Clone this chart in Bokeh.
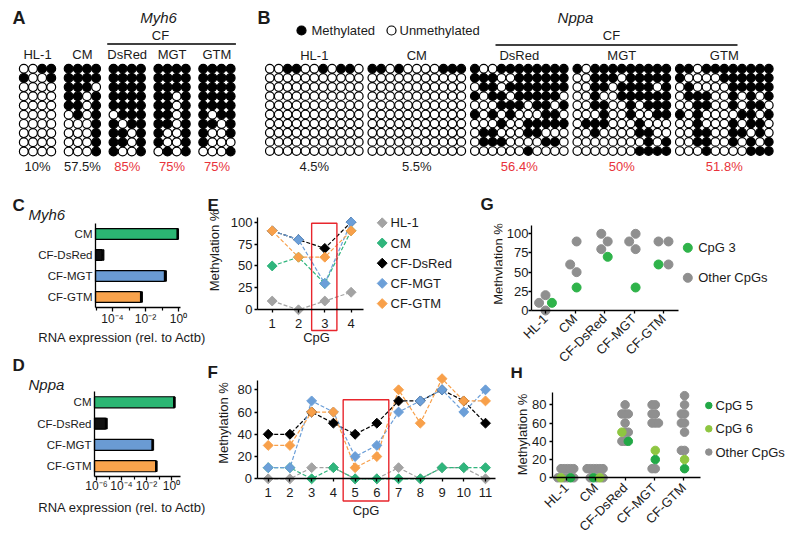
import math
from bokeh.plotting import figure
from bokeh.layouts import column, row
from bokeh.models import Range1d, FixedTicker, CustomJSTickFormatter
from bokeh.core.properties import value
from bokeh.embed import file_html
from bokeh.resources import INLINE

FONT = "Liberation Sans"
INK = "#1b1b1b"
RED = "#e8333b"

# ---------------------------------------------------------------- data
SAMPLES = ["HL-1", "CM", "CF-DsRed", "CF-MGT", "CF-GTM"]
GRID_LABELS = ["HL-1", "CM", "DsRed", "MGT", "GTM"]

# bisulfite sequencing clones (rows) x CpG sites (columns); 1 = methylated
MYH6_HL1 = ["0011", "1001", "0000", "0000", "0000", "0000", "0000", "0000", "0000", "0000"]
MYH6_CM = ["1111", "1111", "1110", "1101", "1101", "0101", "0001", "0001", "0001", "0001"]
MYH6_DSRED = ["1111", "1111", "1111", "1111", "1111", "0111", "1011", "1101", "1101", "1001"]
MYH6_MGT = ["1111", "1111", "1111", "1101", "1101", "1101", "1101", "1001", "1001", "0101"]
MYH6_GTM = ["1111", "1111", "1111", "1111", "1111", "1011", "1101", "1001", "1000", "0001"]

NPPA_HL1 = ["00110010110", "00000000000", "00000000000", "00000000000", "00000000000",
            "00000000000", "00000000000", "00000000000", "00000000000", "00000000000"]
NPPA_CM = ["11010000111", "00000000000", "00000000000", "00000000000", "00000000000",
           "00000000000", "00000000000", "00000000000", "00000000000", "00000000000"]
NPPA_DSRED = ["10011111111", "11100111111", "01101111111", "10110111110", "00011101101",
              "10101000110", "00010011111", "01100011000", "01110000110", "00000010000"]
NPPA_MGT = ["10111111111", "00111011111", "00110111101", "00100111111", "00110010111",
            "00010010011", "01110001000", "00100001100", "00000000101", "00000001111"]
NPPA_GTM = ["11011111111", "10000111111", "01000011111", "01110010101", "00110010110",
            "10100001101", "00100010110", "00110011010", "00110010101", "00010000111"]

MYH6_GRIDS = [MYH6_HL1, MYH6_CM, MYH6_DSRED, MYH6_MGT, MYH6_GTM]
NPPA_GRIDS = [NPPA_HL1, NPPA_CM, NPPA_DSRED, NPPA_MGT, NPPA_GTM]

MYH6_CPGS = [1, 2, 3, 4]
NPPA_CPGS = [1, 2, 3, 4, 5, 6, 7, 8, 9, 10, 11]
MYH6_HIGHLIGHT = [3]
NPPA_HIGHLIGHT = [5, 6]

RNA_SAMPLES = ["CM", "CF-DsRed", "CF-MGT", "CF-GTM"]
MYH6_RNA = [0.9, 2.3e-5, 0.14, 0.005]
MYH6_RNA_ERR = [0.0, 0.4e-5, 0.025, 0.0008]
NPPA_RNA = [1.7, 5.2e-6, 0.029, 0.055]
NPPA_RNA_ERR = [0.0, 1.0e-6, 0.003, 0.006]

# ---------------------------------------------------------------- styles
COL = {"HL-1": "#a3a3a3", "CM": "#2fb57c", "CF-DsRed": "#000000",
       "CF-MGT": "#6c9fd8", "CF-GTM": "#f8a04a"}
BAR_COL = {"CM": "#2bb673", "CF-DsRed": "#111111", "CF-MGT": "#6a9bd3", "CF-GTM": "#f9a34c"}
GRAY = "#8f8f8f"
G_GREEN = "#2fb34a"
H_GREENS = {5: "#22a846", 6: "#8ec641"}
SUP = str.maketrans("-0123456789", "\u207b\u2070\u00b9\u00b2\u00b3\u2074\u2075\u2076\u2077\u2078\u2079")


def pct_per_cpg(grid):
    return [100.0 * sum(int(r[c]) for r in grid) / len(grid) for c in range(len(grid[0]))]


def pct_total(grid):
    cells = "".join(grid)
    return 100.0 * cells.count("1") / len(cells)


def fmt_pct(v):
    s = f"{v:.1f}"
    if s.endswith(".0"):
        s = s[:-2]
    return s + "%"


def swarm(vals, px_x, px_y, dist):
    order = sorted(range(len(vals)), key=lambda i: (vals[i], i))
    placed = []
    off = [0.0] * len(vals)
    for i in order:
        y = vals[i] * px_y
        cands = [0.0]
        for qx, qy in placed:
            dy = abs(y - qy)
            if dy < dist:
                h = math.sqrt(dist * dist - dy * dy)
                cands += [qx - h, qx + h]
        cands.sort(key=lambda c: (round(abs(c), 6), c))
        chosen = cands[-1]
        for c in cands:
            if all((c - qx) ** 2 + (y - qy) ** 2 >= dist * dist - 1e-6 for qx, qy in placed):
                chosen = c
                break
        placed.append((chosen, y))
        off[i] = chosen
    m = sum(off) / len(off)
    return [(o - m) / px_x for o in off]


class Panel:
    """A figure whose frame fills it; layout positions are given in page pixels."""

    def __init__(self, fx, fy, w, h, borders, xmap, ymap, xlog=False, xloc="above", yloc="right"):
        l, r, t, b = borders
        self.xmap, self.ymap, self.xlog = xmap, ymap, xlog
        kw = dict(x_axis_type="log") if xlog else {}
        self.p = figure(width=w, height=h,
                        x_range=Range1d(self.dx(fx + l), self.dx(fx + w - r)),
                        y_range=Range1d(self.dy(fy + h - b), self.dy(fy + t)),
                        x_axis_location=xloc, y_axis_location=yloc,
                        output_backend="svg", toolbar_location=None,
                        min_border_left=l, min_border_right=r, min_border_top=t,
                        min_border_bottom=b, outline_line_color=None, **kw)
        self.p.grid.visible = False

    def dx(self, X):
        X0, d0, s = self.xmap
        v = d0 + (X - X0) / s
        return 10 ** v if self.xlog else v

    def dy(self, Y):
        Y0, d0, s = self.ymap
        return d0 + (Y0 - Y) / s

    def text(self, xs, ys, texts, size, style="normal", align="center", baseline="middle",
             angle=0.0, color=INK, xpx=True, ypx=True):
        x = [self.dx(v) for v in xs] if xpx else list(xs)
        y = [self.dy(v) for v in ys] if ypx else list(ys)
        self.p.text(x=x, y=y, text=texts, angle=angle, text_font=value(FONT),
                    text_font_size=value(size), text_font_style=style, text_align=align,
                    text_baseline=baseline, text_color=color)

    def axis(self, ax, loc, bounds, ticks, tick_in=0, tick_out=0, minor=None):
        ax.fixed_location = loc
        ax.bounds = bounds
        ax.ticker = FixedTicker(ticks=ticks, minor_ticks=minor or [])
        ax.axis_line_color = "black"
        ax.axis_line_width = 1.3
        ax.major_tick_line_color = "black" if (tick_in or tick_out) else None
        ax.major_tick_line_width = 1.3
        ax.major_tick_in = tick_in
        ax.major_tick_out = tick_out
        if minor:
            ax.minor_tick_line_color = "black"
            ax.minor_tick_line_width = 1.2
            ax.minor_tick_in = 0
            ax.minor_tick_out = 3
        else:
            ax.minor_tick_line_color = None
        ax.major_label_standoff = 0
        ax.major_label_text_font_size = "1px"
        ax.formatter = CustomJSTickFormatter(code="return '';")


# ---------------------------------------------------------------- A + B
top = figure(width=790, height=190, x_range=Range1d(0, 790), y_range=Range1d(190, 0),
             x_axis_location=None, y_axis_location=None, output_backend="svg",
             toolbar_location=None, min_border=0, outline_line_color=None)
top.grid.visible = False


def lollipops(grids, x0, dxc, dxg, y0, dyr, size):
    xs, ys, fills = [], [], []
    for g, grid in enumerate(grids):
        for r, line in enumerate(grid):
            for c, ch in enumerate(line):
                xs.append(x0 + g * dxg + c * dxc)
                ys.append(y0 + r * dyr)
                fills.append("black" if ch == "1" else "white")
    top.scatter(xs, ys, size=size, fill_color=fills, line_color="black", line_width=1.2)
    ncol = len(grids[0][0])
    return [x0 + g * dxg + (ncol - 1) * dxc / 2 for g in range(len(grids))]


def ttext(xs, ys, texts, size, style="normal", align="center", colors=INK):
    top.text(x=xs, y=ys, text=texts, text_font=value(FONT), text_font_size=value(size),
             text_font_style=style, text_align=align, text_baseline="middle", text_color=colors)


pct_colors = [INK, INK, RED, RED, RED]

ca = lollipops(MYH6_GRIDS, 23.3, 9.15, 44.85, 68.2, 9.2, 8.8)
ttext([12], [17], ["A"], "18px", "bold", "left")
ttext([158], [17], ["Myh6"], "15px", "italic")
ttext([160], [34.5], ["CF"], "13px")
top.segment(x0=[ca[2] - 20], y0=[43.5], x1=[ca[4] + 19], y1=[43.5], line_color="black", line_width=1.3)
ttext(ca, [53.5] * 5, GRID_LABELS, "13px")
ttext(ca, [165.5] * 5, [fmt_pct(pct_total(g)) for g in MYH6_GRIDS], "13px", colors=pct_colors)

cb = lollipops(NPPA_GRIDS, 269.3, 8.9, 102.5, 68.2, 9.15, 8.6)
ttext([257], [17], ["B"], "18px", "bold", "left")
ttext([575], [17], ["Nppa"], "15px", "italic")
ttext([611], [34.5], ["CF"], "13px")
top.segment(x0=[495], y0=[44.5], x1=[737], y1=[44.5], line_color="black", line_width=1.3)
top.scatter([301, 391], [30, 30], size=9, fill_color=["black", "white"], line_color="black", line_width=1.2)
ttext([311, 399], [30, 30], ["Methylated", "Unmethylated"], "13px", align="left")
ttext(cb, [54.5] * 5, GRID_LABELS, "13px")
ttext(cb, [165.5] * 5, [fmt_pct(pct_total(g)) for g in NPPA_GRIDS], "13px", colors=pct_colors)


# ---------------------------------------------------------------- C / D bars
def bar_panel(fy, h, xmap, ymap, ax_left, ax_right, ax_top, ax_bottom, vals, errs, ticks, minor,
              letter, gene, letter_y, gene_y, cat_x, tick_y, xlab_y):
    P = Panel(0, fy, 206, h, (2, 0, 0, 6), xmap, ymap, xlog=True, xloc="below", yloc="left")
    p = P.p
    n = len(RNA_SAMPLES)
    ypos = [n - i for i in range(n)]
    start = P.dx(ax_left)
    p.hbar(y=ypos, left=start, right=vals, height=0.52,
           fill_color=[BAR_COL[s] for s in RNA_SAMPLES], line_color="black", line_width=1.2)
    ends = [v + e for v, e in zip(vals, errs)]
    p.segment(x0=vals, y0=ypos, x1=ends, y1=ypos, line_color="black", line_width=1.3)
    p.rect(x=ends, y=ypos, width=1.6, width_units="screen", height=0.5, color="black")
    P.axis(p.xaxis[0], P.dy(ax_bottom), (start, P.dx(ax_right)), ticks, tick_out=4, minor=minor)
    P.axis(p.yaxis[0], start, (P.dy(ax_bottom), P.dy(ax_top)), [])
    P.text([12], [letter_y], [letter], "17px", "bold", "left")
    P.text([28], [gene_y], [gene], "15px", "italic", "left")
    P.text([cat_x] * n, ypos, RNA_SAMPLES, "11.5px", align="right", ypx=False)
    labels = ["10" + str(round(math.log10(t))).translate(SUP) for t in ticks]
    P.text(ticks, [tick_y] * len(ticks), labels, "12px", xpx=False)
    P.text([122], [xlab_y], ["RNA expression (rel. to Actb)"], "13px")
    return p


pC = bar_panel(190, 166, (112, -4, 16.5), (296.5, 1, 21), 95, 180, 223, 307,
               MYH6_RNA, MYH6_RNA_ERR, [1e-4, 1e-2, 1.0], [1e-5, 1e-3, 1e-1],
               "C", "Myh6", 205, 214, 92, 318.5, 337)
pD = bar_panel(356, 183, (96, -6, 12.5), (465.7, 1, 21.3), 94, 180, 390.7, 476.35,
               NPPA_RNA, NPPA_RNA_ERR, [1e-6, 1e-4, 1e-2, 1.0], [1e-5, 1e-3, 1e-1],
               "D", "Nppa", 365, 384, 91, 485, 507)


# ---------------------------------------------------------------- E / F lines
def line_panel(fx, fy, w, h, xmap, ymap, ax_left, ax_right, ax_top, cpgs, grids, yticks,
               highlight, box, letter, letter_y, ytick_x, ylab, xtick_y, xlab, legend=None):
    P = Panel(fx, fy, w, h, (0, 3, 3, 0), xmap, ymap)
    p = P.p
    series = [pct_per_cpg(g) for g in grids]
    for name, vals in zip(SAMPLES, series):
        p.line(cpgs, vals, line_color=COL[name], line_dash="4 2", line_width=1.2)
    for name, vals in zip(SAMPLES, series):
        p.scatter(cpgs, vals, marker="square", angle=math.pi / 4, size=7,
                  fill_color=COL[name], line_color=COL[name])
    lo, hi = min(highlight) - box[0], max(highlight) + box[1]
    p.quad(left=[lo], right=[hi], top=[box[2]], bottom=[box[3]], fill_alpha=0,
           line_color="#e8262d", line_width=1.4)
    x0 = P.dx(ax_left)
    P.axis(p.xaxis[0], 0, (x0, P.dx(ax_right)), cpgs, tick_in=3)
    P.axis(p.yaxis[0], x0, (0, P.dy(ax_top)), yticks, tick_in=3)
    P.text([fx + 1], [letter_y], [letter], "17px", "bold", "left")
    P.text([ytick_x] * len(yticks), yticks, [str(t) for t in yticks], "13px", align="right", ypx=False)
    P.text([ylab[0]], [ylab[1]], ["Methylation %"], "13px", angle=math.pi / 2)
    P.text(cpgs, [xtick_y] * len(cpgs), [str(c) for c in cpgs], "13px", xpx=False)
    P.text([xlab[0]], [xlab[1]], ["CpG"], "13px")
    if legend is not None:
        lx, ly0, step, tx = legend
        ys = [ly0 + k * step for k in range(len(SAMPLES))]
        p.scatter([P.dx(lx)] * len(SAMPLES), [P.dy(v) for v in ys], marker="square",
                  angle=math.pi / 4, size=7, fill_color=[COL[s] for s in SAMPLES],
                  line_color=[COL[s] for s in SAMPLES])
        P.text([tx] * len(SAMPLES), ys, SAMPLES, "13px", align="left")
    return P


PE = line_panel(206, 190, 299, 166, (271.7, 1, 26.3), (309.3, 0, 0.877), 256.7, 363, 217.2,
                MYH6_CPGS, MYH6_GRIDS, [0, 25, 50, 75, 100], MYH6_HIGHLIGHT,
                (0.5, 0.46, 98.7, -23.6), "E", 204.5, 252, (214, 250), 323, (316, 336.7),
                legend=(381.7, 222.3, 20.2, 390))
# panel G's letter and y title fall in the strip that this column's canvas covers
PE.text([480], [203.5], ["G"], "17px", "bold", "left")
PE.text([497.5], [263.5], ["Methylation %"], "13px", angle=math.pi / 2)
pE = PE.p
pF = line_panel(206, 356, 299, 183, (267.7, 1, 21.73), (478.3, 0, 1.1125), 256.7, 495, 380,
                NPPA_CPGS, NPPA_GRIDS, [0, 20, 40, 60, 80], NPPA_HIGHLIGHT,
                (0.55, 0.55, 71, -20), "F", 371.5, 251.5, (222.5, 422.5), 491.7, (365.5, 510)).p


# ---------------------------------------------------------------- G / H scatter
def dot_panel(fx, fy, w, h, xmap, ymap, ax_left, ax_right, ax_top, grids, cpgs, hl_colors,
              hl_names, yticks, dist, size, ytick_x, xtick_y, legend, letter=None, ylab=None):
    P = Panel(fx, fy, w, h, (0, 3, 3, 0), xmap, ymap)
    p = P.p
    px_x, px_y = xmap[2], ymap[2]
    gx, gy, hx, hy, hc = [], [], [], [], []
    for gi, grid in enumerate(grids):
        vals = pct_per_cpg(grid)
        offs = swarm(vals, px_x, px_y, dist)
        for k, (v, o) in enumerate(zip(vals, offs)):
            if cpgs[k] in hl_colors:
                hx.append(gi + 1 + o); hy.append(v); hc.append(hl_colors[cpgs[k]])
            else:
                gx.append(gi + 1 + o); gy.append(v)
    p.scatter(gx, gy, size=size, fill_color=GRAY, line_color=GRAY)
    p.scatter(hx, hy, size=size, fill_color=hc, line_color=hc)
    cats = [i + 1 for i in range(len(SAMPLES))]
    x0 = P.dx(ax_left)
    P.axis(p.xaxis[0], 0, (x0, P.dx(ax_right)), cats, tick_in=3)
    P.axis(p.yaxis[0], x0, (0, P.dy(ax_top)), yticks, tick_in=3)
    if letter is not None:
        P.text([letter[0]], [letter[1]], [letter[2]], "17px", "bold", "left")
    if ylab is not None:
        P.text([ylab[0]], [ylab[1]], ["Methylation %"], "13px", angle=math.pi / 2)
    P.text([ytick_x] * len(yticks), yticks, [str(t) for t in yticks], "13px", align="right", ypx=False)
    P.text(cats, [xtick_y] * len(cats), SAMPLES, "13px", align="right", angle=math.pi / 4, xpx=False)
    lx, ly0, step, tx, lsize = legend
    names = hl_names + ["Other CpGs"]
    colors = [hl_colors[c] for c in sorted(hl_colors)] + [GRAY]
    ys = [ly0 + k * step for k in range(len(names))]
    p.scatter([P.dx(lx)] * len(names), [P.dy(v) for v in ys], size=lsize, fill_color=colors,
              line_color=colors)
    P.text([tx] * len(names), ys, names, "13px", align="left")
    return p


pG = dot_panel(505, 190, 285, 174, (545, 1, 29.5), (310, 0, 0.767), 530.7, 678.3, 225,
               MYH6_GRIDS, MYH6_CPGS, {3: G_GREEN}, ["CpG 3"], [0, 25, 50, 75, 100], 10, 9,
               528, 316, (687.3, 247.3, 30, 697.7, 9))
pH = dot_panel(505, 364, 285, 175, (566, 1, 29.3), (477.3, 0, 0.9125), 551.7, 700, 391.7,
               NPPA_GRIDS, NPPA_CPGS, H_GREENS, ["CpG 5", "CpG 6"], [0, 20, 40, 60, 80], 3.2, 8.5,
               546, 485, (708.3, 405, 23.3, 715, 6.5), letter=(510, 372, "H"), ylab=(522, 434))

layout = column(top, row(column(pC, pD), column(pE, pF), column(pG, pH)))
open("out.html", "w").write(file_html(layout, INLINE))
